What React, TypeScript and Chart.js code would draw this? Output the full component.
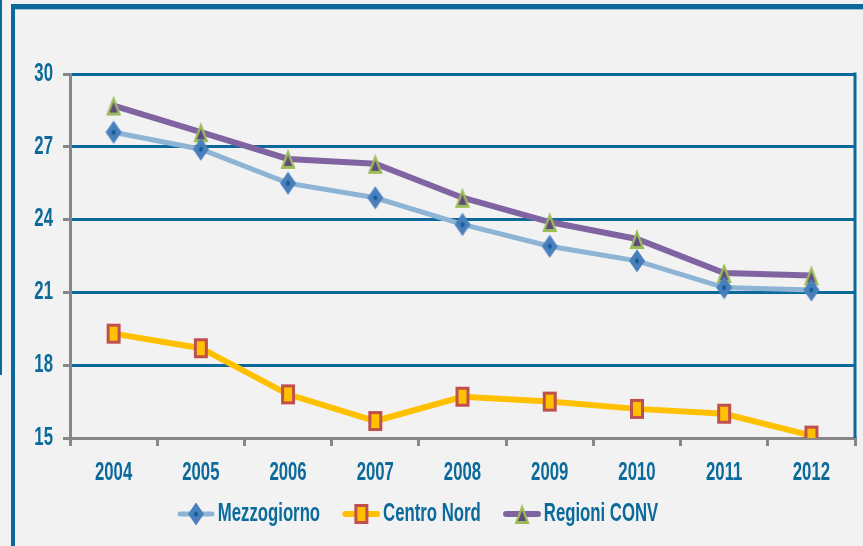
import React, { useEffect, useRef } from "react";
import { Chart, registerables } from "chart.js";

Chart.register(...registerables);

const years = ["2004", "2005", "2006", "2007", "2008", "2009", "2010", "2011", "2012"];
const mezzogiorno = [27.6, 26.9, 25.5, 24.9, 23.8, 22.9, 22.3, 21.2, 21.1];
const centroNord = [19.3, 18.7, 16.8, 15.7, 16.7, 16.5, 16.2, 16.0, 15.1];
const regioniConv = [28.7, 27.6, 26.5, 26.3, 24.9, 23.9, 23.2, 21.8, 21.7];
const seriesNames = ["Mezzogiorno", "Centro Nord", "Regioni CONV"];
const yMin = 15;
const yMax = 30;
const yStep = 3;

const BLUE = "#0b6a9b";
const GRAY = "#878787";
const BG = "#f2f2f2";
const FONT = "'Liberation Sans', Arial, sans-serif";
const FONT_SIZE = 25;
const TEXT_SX = 0.67; // horizontal condensing of text

function makeCanvas(w: number, h: number) {
  const c = document.createElement("canvas");
  c.width = w;
  c.height = h;
  return c;
}

function drawDiamond(ctx: CanvasRenderingContext2D, cx: number, cy: number) {
  ctx.beginPath();
  ctx.moveTo(cx, cy - 11.5);
  ctx.lineTo(cx + 8, cy);
  ctx.lineTo(cx, cy + 11.5);
  ctx.lineTo(cx - 8, cy);
  ctx.closePath();
  ctx.fillStyle = "#4a7fbe";
  ctx.fill();
  ctx.beginPath();
  ctx.ellipse(cx, cy, 2, 2.5, 0, 0, Math.PI * 2);
  ctx.fillStyle = "#135e94";
  ctx.fill();
}

function drawSquare(ctx: CanvasRenderingContext2D, cx: number, cy: number) {
  ctx.fillStyle = "#c0504d";
  ctx.fillRect(cx - 7, cy - 10, 14, 20);
  ctx.fillStyle = "#ffc000";
  ctx.fillRect(cx - 4, cy - 7, 8, 14);
}

function drawTriangle(ctx: CanvasRenderingContext2D, cx: number, cy: number) {
  ctx.beginPath();
  ctx.moveTo(cx, cy - 10);
  ctx.lineTo(cx + 7.5, cy + 10);
  ctx.lineTo(cx - 7.5, cy + 10);
  ctx.closePath();
  ctx.fillStyle = "#9bbb59";
  ctx.fill();
  ctx.beginPath();
  ctx.moveTo(cx, cy - 3.5);
  ctx.lineTo(cx + 4, cy + 7);
  ctx.lineTo(cx - 4, cy + 7);
  ctx.closePath();
  ctx.fillStyle = "#5f4a7b";
  ctx.fill();
}

function drawMarker(ctx: CanvasRenderingContext2D, kind: number, cx: number, cy: number) {
  if (kind === 0) drawDiamond(ctx, cx, cy);
  if (kind === 1) drawSquare(ctx, cx, cy);
  if (kind === 2) drawTriangle(ctx, cx, cy);
}

function markerImage(kind: number) {
  const c = makeCanvas(18, 24);
  drawMarker(c.getContext("2d")!, kind, 9, 12);
  return c;
}

// legend icon: transparent left margin so the visible icon sits right next to the text
function legendImage(kind: number, color: string, lw: number) {
  const c = makeCanvas(60, 24);
  const ctx = c.getContext("2d")!;
  ctx.strokeStyle = color;
  ctx.lineWidth = lw;
  ctx.lineCap = "round";
  ctx.beginPath();
  ctx.moveTo(25, 12);
  ctx.lineTo(57, 12);
  ctx.stroke();
  drawMarker(ctx, kind, 41, 12);
  return c;
}

function condenseText(ctx: CanvasRenderingContext2D, sx: number) {
  const origFill = ctx.fillText.bind(ctx);
  const origMeasure = ctx.measureText.bind(ctx);
  (ctx as any).fillText = (t: string, x: number, y: number, maxW?: number) => {
    ctx.save();
    ctx.translate(x, y);
    ctx.scale(sx, 1);
    if (typeof maxW === "number" && isFinite(maxW)) origFill(t, 0, 0, maxW / sx);
    else origFill(t, 0, 0);
    ctx.restore();
  };
  (ctx as any).measureText = (t: string) => {
    const m = origMeasure(t);
    return {
      width: m.width * sx,
      actualBoundingBoxAscent: m.actualBoundingBoxAscent,
      actualBoundingBoxDescent: m.actualBoundingBoxDescent,
      actualBoundingBoxLeft: m.actualBoundingBoxLeft * sx,
      actualBoundingBoxRight: m.actualBoundingBoxRight * sx,
      fontBoundingBoxAscent: m.fontBoundingBoxAscent,
      fontBoundingBoxDescent: m.fontBoundingBoxDescent,
    };
  };
}

export default function App() {
  const ref = useRef<HTMLCanvasElement | null>(null);

  useEffect(() => {
    if (!ref.current) return;
    const ctx2d = ref.current.getContext("2d")!;
    condenseText(ctx2d, TEXT_SX);

    const lineColors = ["#8db4d4", "#ffc000", "#8064a2"];
    const lineWidths = [5, 6, 6];
    const values = [mezzogiorno, centroNord, regioniConv];
    const tickFont = { family: FONT, size: FONT_SIZE, weight: "bold" };

    const framePlugin = {
      id: "frame",
      beforeDraw(chart: any) {
        const ctx = chart.ctx;
        ctx.save();
        ctx.fillStyle = BG;
        ctx.fillRect(0, 0, chart.width, chart.height);
        ctx.fillStyle = BLUE;
        ctx.fillRect(0, 0, 2, 375);
        ctx.fillRect(11, 4, 4, chart.height - 4);
        ctx.fillRect(11, 4, chart.width - 11, 5);
        ctx.fillStyle = "#9cc3da";
        ctx.fillRect(15, 9, chart.width - 15, 1);
        ctx.restore();
      },
      afterLayout(chart: any) {
        if (chart.legend) {
          chart.legend.left -= 16;
          chart.legend.right -= 16;
        }
      },
      afterDraw(chart: any) {
        const { ctx, chartArea } = chart;
        ctx.save();
        ctx.strokeStyle = BLUE;
        ctx.lineWidth = 3;
        ctx.beginPath();
        ctx.moveTo(chartArea.right, chartArea.top - 1.5);
        ctx.lineTo(chartArea.right, chartArea.bottom);
        ctx.stroke();
        ctx.restore();
      },
    };

    const chart = new Chart(ref.current, {
      type: "line",
      data: {
        labels: years,
        datasets: seriesNames.map((name, i) => ({
          label: name,
          data: values[i],
          borderColor: lineColors[i],
          backgroundColor: lineColors[i],
          borderWidth: lineWidths[i],
          pointStyle: markerImage(i) as any,
          pointRadius: 1,
          pointHoverRadius: 1,
          pointBorderWidth: 0,
          tension: 0,
          fill: false,
        })),
      },
      options: {
        animation: false,
        responsive: false,
        devicePixelRatio: 1,
        layout: { padding: { left: 0, top: 74, right: 8, bottom: 9.5 } },
        plugins: {
          tooltip: { enabled: false },
          legend: {
            display: true,
            position: "bottom",
            labels: {
              usePointStyle: true,
              pointStyleWidth: 40.5,
              padding: 10,
              color: BLUE,
              font: tickFont,
              generateLabels: () =>
                seriesNames.map((name, i) => ({
                  text: name,
                  pointStyle: legendImage(i, lineColors[i], lineWidths[i]) as any,
                  fillStyle: lineColors[i],
                  strokeStyle: lineColors[i],
                  lineWidth: 0,
                  hidden: false,
                  datasetIndex: i,
                  fontColor: BLUE,
                })),
            },
          },
        },
        scales: {
          x: {
            type: "category",
            offset: true,
            afterFit: (s: any) => {
              s.height = 53.5;
              s.paddingLeft = 0;
              s.paddingRight = 0;
            },
            grid: {
              display: true,
              offset: true,
              drawOnChartArea: false,
              drawTicks: true,
              tickLength: 8,
              color: GRAY,
              lineWidth: 3,
            },
            border: { display: true, color: GRAY, width: 3 },
            ticks: {
              color: BLUE,
              padding: 12,
              font: tickFont,
              maxRotation: 0,
              autoSkip: false,
            },
          },
          y: {
            min: yMin,
            max: yMax,
            afterFit: (s: any) => {
              s.width = 70;
            },
            ticks: {
              stepSize: yStep,
              color: BLUE,
              padding: 10,
              font: tickFont,
            },
            grid: {
              color: (c: any) => (c.tick && c.tick.value === yMin ? "rgba(0,0,0,0)" : BLUE),
              tickColor: GRAY,
              lineWidth: 3,
              tickLength: 7,
              drawTicks: true,
            },
            border: { display: true, color: GRAY, width: 3 },
          },
        },
      },
      plugins: [framePlugin],
    } as any);

    return () => chart.destroy();
  }, []);

  return (
    <div style={{ position: "fixed", left: 0, top: 0, width: 863, height: 546, background: BG }}>
      <canvas ref={ref} width={863} height={546} style={{ display: "block", width: 863, height: 546 }} />
    </div>
  );
}
